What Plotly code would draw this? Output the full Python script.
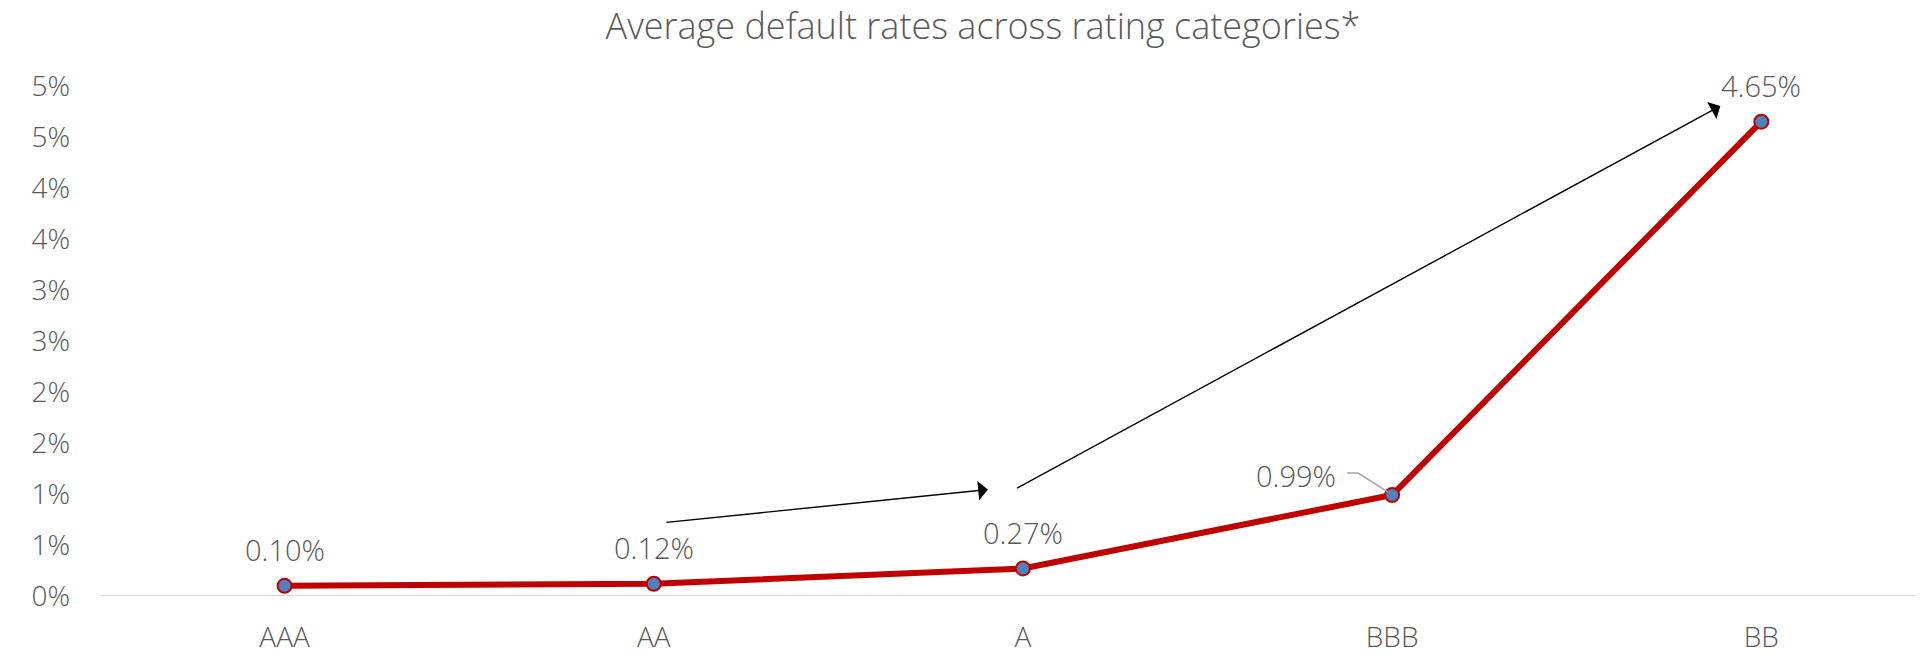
import plotly.graph_objects as go

# ---- data ----
categories = ["AAA", "AA", "A", "BBB", "BB"]
default_rates = [0.10, 0.12, 0.27, 0.99, 4.65]          # percent
rate_labels = ["0.10%", "0.12%", "0.27%", "0.99%", "4.65%"]
y_tick_values = [0, 0.5, 1.0, 1.5, 2.0, 2.5, 3.0, 3.5, 4.0, 4.5, 5.0]
y_tick_labels = ["0%", "1%", "1%", "2%", "2%", "3%", "3%", "4%", "4%", "5%", "5%"]
title_text = "Average default rates across rating categories*"

# decorative arrows (tail -> head) in axis units
arrow_tails = [(1.03, 0.72), (1.98, 1.05)]
arrow_heads = [(1.905, 1.043), (3.889, 4.804)]

FONT = "Open Sans"
GREY = "#595959"
W, H = 1908, 646   # page body has an 8px margin on every side

fig = go.Figure()
fig.add_trace(go.Scatter(
    x=categories, y=default_rates, mode="lines+markers",
    line=dict(color="#C00000", width=6),
    marker=dict(size=14, color="#4F81BD", line=dict(color="#C00000", width=2)),
    hoverinfo="skip", showlegend=False, cliponaxis=False,
))

annotations = []
for cat, val, lab in zip(categories, default_rates, rate_labels):
    if cat == "BBB":
        annotations.append(dict(x=cat, y=val, xref="x", yref="y", text=lab, showarrow=False,
                                xanchor="right", yanchor="middle", xshift=-54, yshift=20,
                                font=dict(family=FONT, size=29, color=GREY, weight=300)))
    else:
        annotations.append(dict(x=cat, y=val, xref="x", yref="y", text=lab, showarrow=False,
                                xanchor="center", yanchor="middle", yshift=36,
                                font=dict(family=FONT, size=29, color=GREY, weight=300)))

for (tx, ty), (hx, hy) in zip(arrow_tails, arrow_heads):
    annotations.append(dict(x=hx, y=hy, ax=tx, ay=ty, xref="x", yref="y", axref="x", ayref="y",
                            text="", showarrow=True, arrowhead=1, arrowsize=2.3, arrowwidth=1.4,
                            arrowcolor="#000000", standoff=0, startstandoff=0))

shapes = [
    dict(type="path", xref="x", yref="y", xsizemode="pixel", ysizemode="pixel",
         xanchor="BBB", yanchor=default_rates[3],
         path="M-45,22 L-34,22 L-4,3", line=dict(color="#A6A6A6", width=1.5)),
    dict(type="line", xref="paper", yref="y", x0=0, x1=1.01, y0=0, y1=0,
         line=dict(color="#D9D9D9", width=2), layer="below"),
]

fig.update_layout(
    width=W, height=H,
    margin=dict(l=92, r=0, t=78, b=58, autoexpand=False),
    paper_bgcolor="white", plot_bgcolor="white",
    title=dict(text=title_text, x=975 / W, xanchor="center", y=1 - 18 / H, yanchor="middle",
               yref="container", automargin=False,
               font=dict(family=FONT, size=36, color=GREY, weight=300)),
    xaxis=dict(type="category", range=[-0.5, 4.419], showgrid=False, zeroline=False,
               showline=False, ticks="",
               automargin=False, ticklabelstandoff=22,
               tickfont=dict(family=FONT, size=28, color=GREY, weight=300)),
    yaxis=dict(range=[0, 5.0], tickvals=y_tick_values, ticktext=y_tick_labels,
               showgrid=False, zeroline=False, showline=False, ticks="",
               automargin=False, ticklabelstandoff=29,
               tickfont=dict(family=FONT, size=28, color=GREY, weight=300)),
    annotations=annotations, shapes=shapes,
)

fig.write_html("out.html")
